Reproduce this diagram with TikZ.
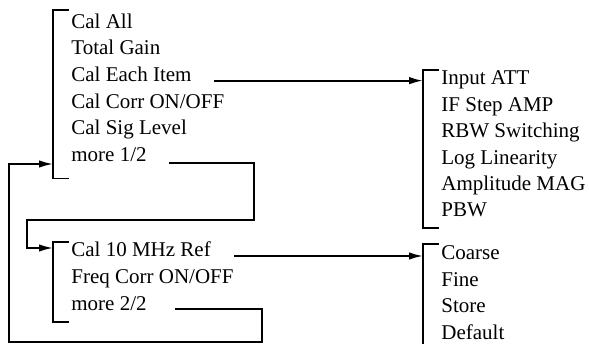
\documentclass[tikz,border=0pt]{standalone}
\usepackage{fontspec}
\setmainfont{LiberationSerif}[Extension=.ttf,UprightFont=*-Regular,BoldFont=*-Bold]
\usetikzlibrary{arrows.meta,calc}

\begin{document}
\begin{tikzpicture}[x=1pt,y=1pt,>={Latex[length=14pt,width=7.5pt]},line width=1.8pt,
  item/.style={anchor=base west,inner sep=0pt,font=\fontsize{21}{25}\selectfont}]
\useasboundingbox (0,0) rectangle (589,-344);
% menu items
\foreach \t [count=\i] in {Cal All,Total Gain,Cal Each Item,Cal Corr ON/OFF,Cal Sig Level,more 1/2}{\node[item] (a\i) at (70.5,{-28.3-26.67*(\i-1)}) {\t};}
\foreach \t [count=\i] in {Cal 10 MHz Ref,Freq Corr ON/OFF,more 2/2}{\node[item] (b\i) at (70.5,{-257-26.67*(\i-1)}) {\t};}
\foreach \t [count=\i] in {Input ATT,IF Step AMP,RBW Switching,Log Linearity,Amplitude MAG,PBW}{\node[item] (c\i) at (440.5,{-85-26.4*(\i-1)}) {\t};}
\foreach \t [count=\i] in {Coarse,Fine,Store,Default}{\node[item] (d\i) at (440.5,{-259.5-26.67*(\i-1)}) {\t};}
% brackets
\foreach \x/\t/\b in {53/10/178.5,53/242/322,423/70/228}{\draw (\x+16,-\t)--(\x,-\t)--(\x,-\b)--(\x+16,-\b);}
\draw (439,-244)--(423,-244)--(423,-346);
\coordinate (ba) at (53,0); \coordinate (bc) at (423,0);
% connectors
\coordinate (s1) at ($(a3.base east)+(21.5,1)$); \draw[->] (s1)--(s1 -| bc);
\coordinate (s3) at ($(b1.base east)+(22.5,1)$); \draw[->] (s3)--(s3 -| bc);
\coordinate (s2) at ($(a6.base east)+(21.5,-1)$); \coordinate (l1) at (254,-220); \coordinate (l2) at (27,-248);
\draw[->] (s2)-|(l1)-|(l2)--(l2 -| ba);
\coordinate (s4) at ($(b3.base east)+(27,1)$); \coordinate (l3) at (262,-342); \coordinate (l4) at (9,-164);
\draw[->] (s4)-|(l3)-|(l4)--(l4 -| ba);
\end{tikzpicture}
\end{document}
